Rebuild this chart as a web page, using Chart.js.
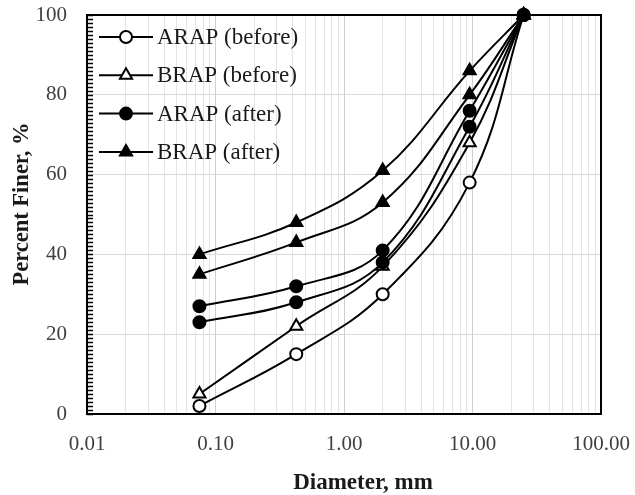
<!DOCTYPE html>
<html><head><meta charset="utf-8">
<script src="https://cdn.jsdelivr.net/npm/chart.js@4.4.1/dist/chart.umd.min.js"></script>
<style>html,body{margin:0;padding:0;background:#fff}#wrap{width:635px;height:495px;position:relative}</style>
</head><body><div id="wrap"><canvas id="c" width="635" height="495"></canvas></div>
<script>
const diameters = [0.075, 0.425, 2, 9.5, 25];
const arapBefore = [2, 15, 30, 58, 100];
const brapBefore = [5, 22, 37, 68, 100];
const arapAfter = [27, 32, 41, 76, 100];
const brapAfter = [40, 48, 61, 86, 100];
const arapAfter2 = [23, 28, 38, 72, 100];
const brapAfter2 = [35, 43, 53, 80, 100];
const seriesLabels = ['ARAP (before)', 'BRAP (before)', 'ARAP (after)', 'BRAP (after)'];
const xTickValues = [0.01, 0.1, 1, 10, 100];
const xTickLabels = ['0.01', '0.10', '1.00', '10.00', '100.00'];
const yTickValues = [0, 20, 40, 60, 80, 100];
const xTitle = 'Diameter, mm';
const yTitle = 'Percent Finer, %';

const SERIF = "'Liberation Serif', 'Times New Roman', serif";
const pts = arr => diameters.map((d, i) => ({x: d, y: arr[i]}));

// log grid positions (1..9 x each decade)
const gridVals = [];
for (let k = 0; k < xTickValues.length - 1; k++) {
  for (let m = 1; m <= 9; m++) gridVals.push(+(xTickValues[k] * m).toPrecision(6));
}
gridVals.push(xTickValues[xTickValues.length - 1]);
const isDecade = v => Math.abs(Math.log10(v) - Math.round(Math.log10(v))) < 1e-9;
const labelFor = v => {
  const i = xTickValues.findIndex(t => Math.abs(t - v) / t < 1e-9);
  return i >= 0 ? xTickLabels[i] : '';
};

function ds(label, data, style, filled, order, inLegend) {
  return {
    label, data: pts(data), order, inLegend,
    borderColor: '#000', borderWidth: 2, tension: 0.4, fill: false, clip: false,
    pointStyle: style, pointRadius: style === 'triangle' ? 7 : 6,
    pointBackgroundColor: filled ? '#000' : '#fff', pointBorderColor: '#000', pointBorderWidth: 2
  };
}

const datasets = [
  ds(seriesLabels[0], arapBefore, 'circle', false, 5, true),
  ds(seriesLabels[1], brapBefore, 'triangle', false, 4, true),
  ds(seriesLabels[2], arapAfter, 'circle', true, 0, true),
  ds(seriesLabels[3], brapAfter, 'triangle', true, 2, true),
  ds(seriesLabels[2], arapAfter2, 'circle', true, 1, false),
  ds(seriesLabels[3], brapAfter2, 'triangle', true, 3, false)
];

const decor = {
  id: 'decor',
  afterDraw(chart) {
    const ctx = chart.ctx, a = chart.chartArea, ys = chart.scales.y;
    ctx.save();
    // frame top/right
    ctx.strokeStyle = '#000'; ctx.lineWidth = 2;
    ctx.beginPath();
    ctx.moveTo(a.left, a.top); ctx.lineTo(a.right, a.top); ctx.lineTo(a.right, a.bottom);
    ctx.stroke();
    // minor inward ticks on y axis
    ctx.lineWidth = 1.5;
    ctx.beginPath();
    for (let v = ys.min; v <= ys.max; v += 1) {
      const y = Math.round(ys.getPixelForValue(v)) + 0.5;
      ctx.moveTo(a.left, y); ctx.lineTo(a.left + 6, y);
    }
    ctx.stroke();
    // legend
    const items = chart.data.datasets.filter(d => d.inLegend);
    items.forEach((d, i) => {
      const y = 37 + i * 38.3;
      ctx.strokeStyle = '#000'; ctx.lineWidth = 2;
      ctx.beginPath(); ctx.moveTo(99, y); ctx.lineTo(153, y); ctx.stroke();
      ctx.fillStyle = d.pointBackgroundColor;
      ctx.strokeStyle = '#000';
      Chart.helpers.drawPoint(ctx, {pointStyle: d.pointStyle, radius: d.pointRadius, borderWidth: 2, rotation: 0}, 126, y);
      ctx.fillStyle = '#1a1a1a';
      ctx.font = '23px ' + SERIF;
      ctx.textAlign = 'left'; ctx.textBaseline = 'middle';
      ctx.fillText(d.label, 157, y + 1);
    });
    // axis titles
    ctx.fillStyle = '#1a1a1a';
    ctx.font = 'bold 23px ' + SERIF;
    ctx.textAlign = 'center'; ctx.textBaseline = 'middle';
    ctx.fillText(xTitle, 363, 483);
    ctx.translate(22, 204);
    ctx.rotate(-Math.PI / 2);
    ctx.font = 'bold 22.5px ' + SERIF;
    ctx.fillText(yTitle, 0, 0);
    ctx.restore();
  }
};

new Chart(document.getElementById('c'), {
  type: 'line',
  data: {datasets},
  plugins: [decor],
  options: {
    responsive: false, animation: false, devicePixelRatio: 1,
    layout: {padding: {top: 15, right: 34, left: 0, bottom: 0}},
    plugins: {legend: {display: false}, tooltip: {enabled: false}},
    scales: {
      x: {
        type: 'logarithmic', min: xTickValues[0], max: xTickValues[xTickValues.length - 1],
        afterBuildTicks: s => { s.ticks = gridVals.map(v => ({value: v, major: isDecade(v)})); },
        afterFit: s => { s.height = 81; s.paddingLeft = 0; s.paddingRight = 0; },
        ticks: {
          autoSkip: false, maxRotation: 0, padding: 18, color: '#404040',
          font: {family: SERIF, size: 21},
          callback: v => labelFor(v)
        },
        grid: {
          drawTicks: false, lineWidth: 1,
          color: c => (c.tick && isDecade(c.tick.value)) ? '#cfcfcf' : '#e4e4e4'
        },
        border: {color: '#000', width: 2}
      },
      y: {
        min: yTickValues[0], max: yTickValues[yTickValues.length - 1],
        afterBuildTicks: s => { s.ticks = yTickValues.map(v => ({value: v})); },
        afterFit: s => { s.width = 87; s.paddingTop = 0; s.paddingBottom = 0; },
        ticks: {padding: 20, color: '#404040', font: {family: SERIF, size: 21}},
        grid: {
          drawTicks: false, lineWidth: 1,
          color: c => (c.tick && (c.tick.value === 0 || c.tick.value === 100)) ? 'rgba(0,0,0,0)' : '#d9d9d9'
        },
        border: {color: '#000', width: 2}
      }
    }
  }
});
</script></body></html>
